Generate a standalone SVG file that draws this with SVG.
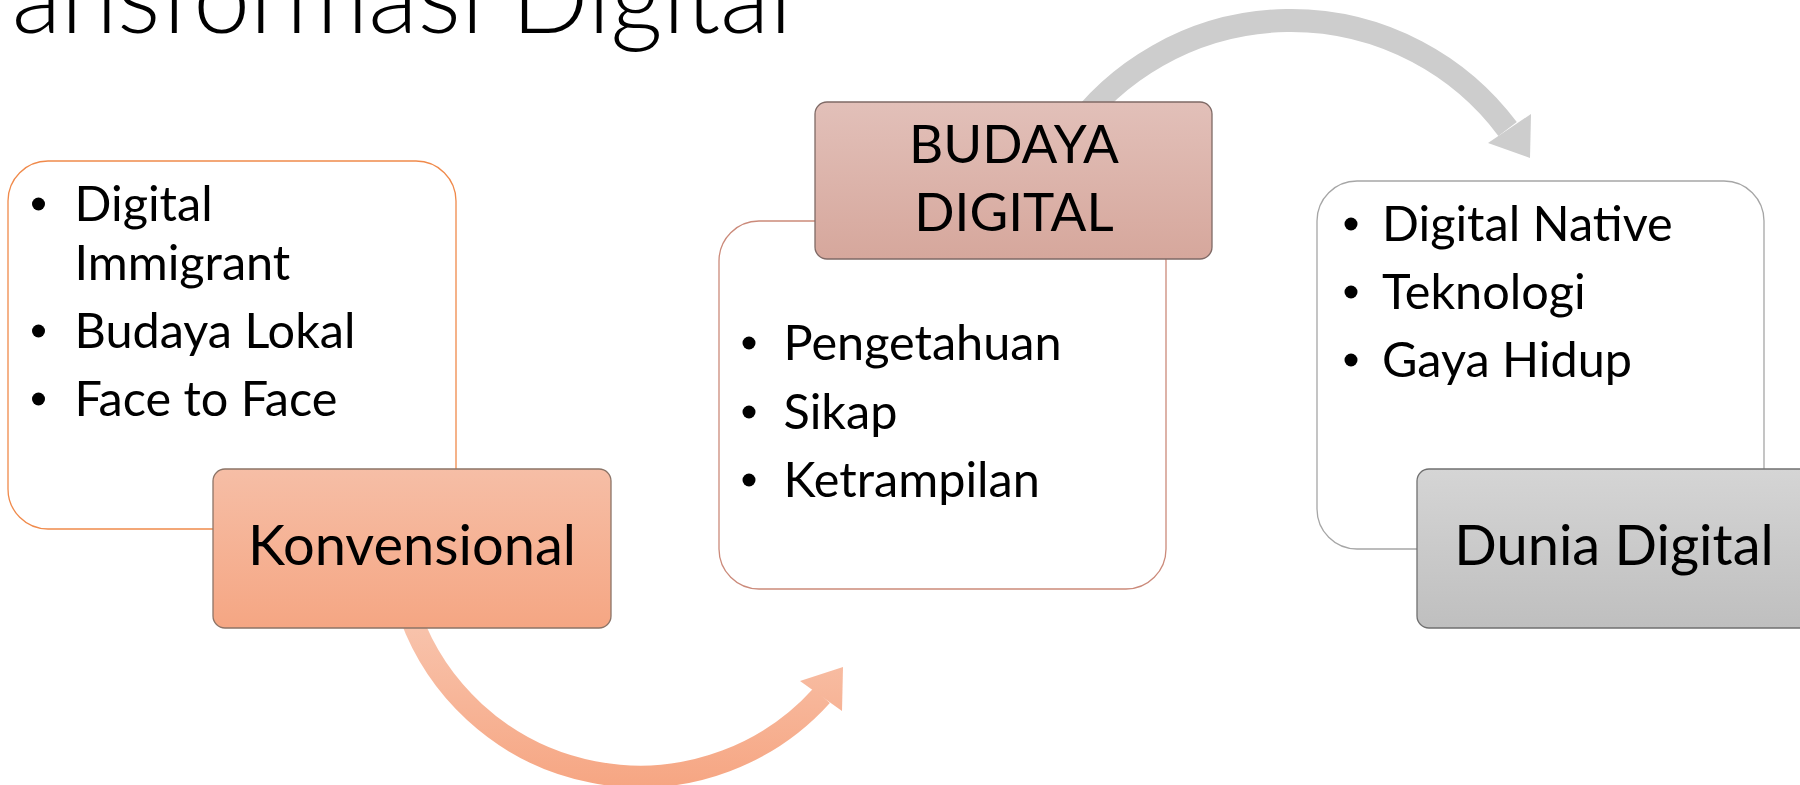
<svg xmlns="http://www.w3.org/2000/svg" width="1800" height="785" viewBox="0 0 1800 785">
<style>
  text { font-family: Lato, "Open Sans", "Liberation Sans", sans-serif; fill: #000; }
  .title { font-size: 102px; font-weight: 300; }
  .lbl { font-size: 56px; text-anchor: middle; }
  .cap { font-size: 53px; text-anchor: middle; }
  .bul { font-size: 48.6px; }
  .card { fill: #fff; stroke-width: 1.3; }
  .dot { fill: #000; }
</style>
<defs>
  <linearGradient id="gOrange" x1="0" y1="0" x2="0" y2="1">
    <stop offset="0" stop-color="#F6BEA6"/>
    <stop offset="1" stop-color="#F5A683"/>
  </linearGradient>
  <linearGradient id="gRose" x1="0" y1="0" x2="0" y2="1">
    <stop offset="0" stop-color="#E2C0B9"/>
    <stop offset="1" stop-color="#D6A79C"/>
  </linearGradient>
  <linearGradient id="gGray" x1="0" y1="0" x2="0" y2="1">
    <stop offset="0" stop-color="#D5D5D5"/>
    <stop offset="1" stop-color="#BFBFBF"/>
  </linearGradient>
  <linearGradient id="gArrowO" gradientUnits="userSpaceOnUse" x1="0" y1="620" x2="0" y2="785">
    <stop offset="0" stop-color="#F8C4AD"/>
    <stop offset="1" stop-color="#F6A683"/>
  </linearGradient>
</defs>

<text class="title" x="792" y="33" text-anchor="end">Transformasi Digital</text>

<g id="connectors">
  <g id="arrow-konvensional-budaya">
    <path d="M 410.2 615.6 A 244.5 244.5 0 0 0 821.7 695.6" fill="none" stroke="url(#gArrowO)" stroke-width="22"/>
    <polygon points="800,681 843,667 842,711" fill="url(#gArrowO)"/>
  </g>
  <g id="arrow-budaya-dunia">
    <path d="M 1069.4 135.8 A 270.5 270.5 0 0 1 1507.6 129" fill="none" stroke="#CDCDCD" stroke-width="23"/>
    <polygon points="1488,143 1531,114 1530,158" fill="#CDCDCD"/>
  </g>
</g>

<g id="node-konvensional">
  <rect class="card" x="8" y="161" width="448" height="368" rx="40" stroke="#F08A4B"/>
  <circle class="dot" cx="38.5" cy="204" r="6.5"/>
  <text class="bul" x="74.5" y="221">Digital</text>
  <text class="bul" x="74.5" y="280">Immigrant</text>
  <circle class="dot" cx="38.5" cy="331" r="6.5"/>
  <text class="bul" x="74.5" y="348">Budaya Lokal</text>
  <circle class="dot" cx="38.5" cy="399" r="6.5"/>
  <text class="bul" x="74.5" y="416">Face to Face</text>
  <rect x="213" y="469" width="398" height="159" rx="12" fill="url(#gOrange)" stroke="#8C7467" stroke-width="1.3"/>
  <text class="lbl" x="412" y="565">Konvensional</text>
</g>

<g id="node-budaya-digital">
  <rect class="card" x="719" y="221" width="447" height="368" rx="40" stroke="#CB8A7A"/>
  <circle class="dot" cx="749" cy="343" r="6.5"/>
  <text class="bul" x="783.5" y="360">Pengetahuan</text>
  <circle class="dot" cx="749" cy="412" r="6.5"/>
  <text class="bul" x="783.5" y="429">Sikap</text>
  <circle class="dot" cx="749" cy="480" r="6.5"/>
  <text class="bul" x="783.5" y="497">Ketrampilan</text>
  <rect x="815" y="102" width="397" height="157" rx="12" fill="url(#gRose)" stroke="#7F6A66" stroke-width="1.3"/>
  <text class="cap" x="1014" y="163">BUDAYA</text>
  <text class="cap" x="1014" y="231">DIGITAL</text>
</g>

<g id="node-dunia-digital">
  <rect class="card" x="1317" y="181" width="447" height="368" rx="40" stroke="#A6A6A6"/>
  <circle class="dot" cx="1351" cy="224" r="6.5"/>
  <text class="bul" x="1382" y="241">Digital Native</text>
  <circle class="dot" cx="1351" cy="292" r="6.5"/>
  <text class="bul" x="1382" y="309">Teknologi</text>
  <circle class="dot" cx="1351" cy="360" r="6.5"/>
  <text class="bul" x="1382" y="377">Gaya Hidup</text>
  <rect x="1417" y="469" width="398" height="159" rx="12" fill="url(#gGray)" stroke="#707070" stroke-width="1.3"/>
  <text class="lbl" x="1614" y="565">Dunia Digital</text>
</g>
</svg>
